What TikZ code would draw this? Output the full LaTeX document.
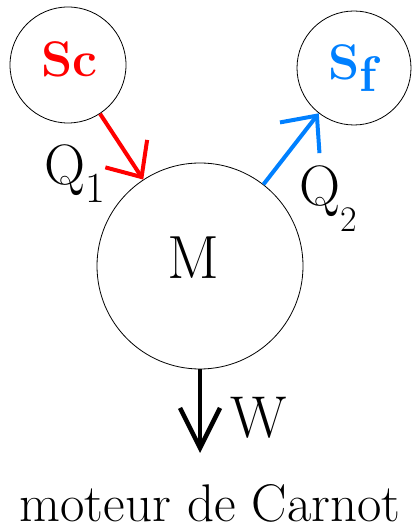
\documentclass[tikz,border=0pt]{standalone}
\usetikzlibrary{positioning, arrows.meta}

\definecolor{chaud}{RGB}{255,0,0}
\definecolor{froid}{RGB}{0,128,255}
\newcommand{\taille}[1]{\fontsize{#1}{#1}\selectfont}
\newcommand{\bas}[2]{\raisebox{-#1}{#2}}

\tikzset{
	reservoir/.style = {draw, circle, line width=0.8pt, inner sep=0pt},
	texte/.style     = {inner sep=0pt, anchor=base west},
	fleche/.style    = {line width=4pt, -{Straight Barb[length=28pt, width=50pt]}},
}

\begin{document}
\begin{tikzpicture}[x=1pt, y=1pt]
	\useasboundingbox (0,0) rectangle (412,529);
	
	\node (Sc)   [reservoir, minimum size=116pt] at (68,464)  {};
	\node (Sf)   [reservoir, minimum size=114pt] at (354,461) {};
	\node (M)    [reservoir, minimum size=206pt] at (200,263) {};
	\coordinate (Wbout) at (198,76);
	
	\node (ScTxt) [texte] at (41,452)  {\taille{50}\bfseries\color{chaud}Sc};
	\node (SfTxt) [texte] at (328,449) {\taille{50}\bfseries\color{froid}S\bas{12pt}{f}};
	\node (MTxt)  [texte] at (167,250) {\taille{61}M};
	
	\node (Q1)   [texte] at (44,344)  {\taille{57}Q\bas{18pt}{\taille{43}1}};
	\node (Q2)   [texte] at (299,323) {\taille{57}Q\bas{26pt}{\taille{36}2}};
	\node (W)    [texte] at (230,91)  {\taille{59}W};
	
	\node (titre) [inner sep=0pt, anchor=base] at (210,8) {\taille{53}moteur de Carnot};
	
	\path
	(Sc) edge[fleche, chaud] (M)
	(M)  edge[fleche, froid] (Sf)
	;
	\draw[line width=4.5pt, -{Straight Barb[length=40pt, width=40pt]}] (M.south) -- (M.south |- Wbout);
	
\end{tikzpicture}
\end{document}
